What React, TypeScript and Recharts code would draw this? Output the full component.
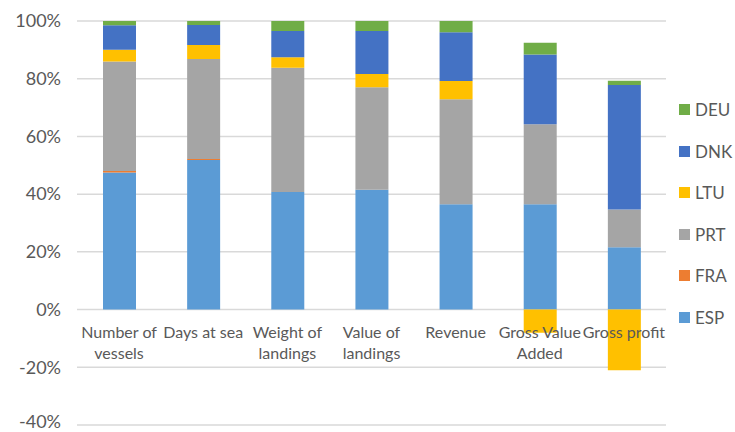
import { BarChart, Bar, XAxis, YAxis, CartesianGrid } from "recharts";

const categories = [
  "Number of vessels",
  "Days at sea",
  "Weight of landings",
  "Value of landings",
  "Revenue",
  "Gross Value Added",
  "Gross profit",
];
// how each category label wraps under the zero line
const labelLines = [
  ["Number of", "vessels"],
  ["Days at sea"],
  ["Weight of", "landings"],
  ["Value of", "landings"],
  ["Revenue"],
  ["Gross Value", "Added"],
  ["Gross profit"],
];

const esp = [0.475, 0.518, 0.407, 0.415, 0.365, 0.365, 0.216];
const fra = [0.005, 0.004, 0, 0, 0, 0, 0];
const prt = [0.38, 0.346, 0.431, 0.355, 0.364, 0.277, 0.131];
const ltu = [0.04, 0.049, 0.036, 0.046, 0.063, -0.08, -0.21];
const dnk = [0.085, 0.069, 0.091, 0.149, 0.169, 0.242, 0.431];
const deu = [0.015, 0.014, 0.035, 0.035, 0.039, 0.041, 0.015];

const yTicks = [-0.4, -0.2, 0, 0.2, 0.4, 0.6, 0.8, 1];

const series = [
  { key: "ESP", color: "#5B9BD5" },
  { key: "FRA", color: "#ED7D31" },
  { key: "PRT", color: "#A5A5A5" },
  { key: "LTU", color: "#FFC000" },
  { key: "DNK", color: "#4472C4" },
  { key: "DEU", color: "#70AD47" },
];

const data = categories.map((c, i) => ({
  name: c,
  ESP: esp[i],
  FRA: fra[i],
  PRT: prt[i],
  LTU: ltu[i],
  DNK: dnk[i],
  DEU: deu[i],
}));

const W = 735;
const H = 432;
const TOP = 21;
const BOTTOM = 7;
// y of the 0% line, used to hang the category labels under it (Excel style)
const zeroY = TOP + ((H - TOP - BOTTOM) * 1) / 1.4;

const FONT = "Lato, 'Open Sans', sans-serif";
const TEXT = "#595959";

function CategoryTick(props: any) {
  const { x, index } = props;
  const lines = labelLines[index] || [];
  return (
    <text x={x} y={zeroY + 28} textAnchor="middle" fill={TEXT} fontSize={16} fontFamily={FONT}>
      {lines.map((l, i) => (
        <tspan key={i} x={x} dy={i === 0 ? 0 : 21}>
          {l}
        </tspan>
      ))}
    </text>
  );
}

function PercentTick(props: any) {
  const { x, y, payload } = props;
  // keep the bottom label inside the picture
  const ty = Math.min(y, H - 10);
  return (
    <text x={x - 8} y={ty} dy="0.35em" textAnchor="end" fill={TEXT} fontSize={18} fontFamily={FONT}>
      {`${Math.round(payload.value * 100)}%`}
    </text>
  );
}

function SideLegend() {
  const items = [...series].reverse();
  return (
    <div style={{ position: "absolute", left: 679, top: 89, fontFamily: FONT, fontSize: 17, color: TEXT }}>
      {items.map((s) => (
        <div key={s.key} style={{ display: "flex", alignItems: "center", height: 41.5 }}>
          <span style={{ width: 11, height: 11, background: s.color, marginRight: 5, display: "inline-block" }} />
          {s.key}
        </div>
      ))}
    </div>
  );
}

export default function App() {
  return (
    <div style={{ position: "absolute", left: 0, top: 0, width: W, height: H, background: "#fff", overflow: "hidden" }}>
      <BarChart
        width={W}
        height={H}
        data={data}
        stackOffset="sign"
        margin={{ top: TOP, right: 69, bottom: 0, left: 0 }}
      >
        <CartesianGrid vertical={false} stroke="#d9d9d9" strokeWidth={1.5} />
        <XAxis
          dataKey="name"
          axisLine={false}
          tickLine={false}
          height={BOTTOM}
          interval={0}
          tick={<CategoryTick />}
        />
        <YAxis
          domain={[-0.4, 1]}
          ticks={yTicks}
          interval={0}
          axisLine={false}
          tickLine={false}
          width={77}
          tick={<PercentTick />}
        />
        {series.map((s) => (
          <Bar key={s.key} dataKey={s.key} stackId="a" fill={s.color} barSize={33} isAnimationActive={false} />
        ))}
      </BarChart>
      <SideLegend />
    </div>
  );
}
